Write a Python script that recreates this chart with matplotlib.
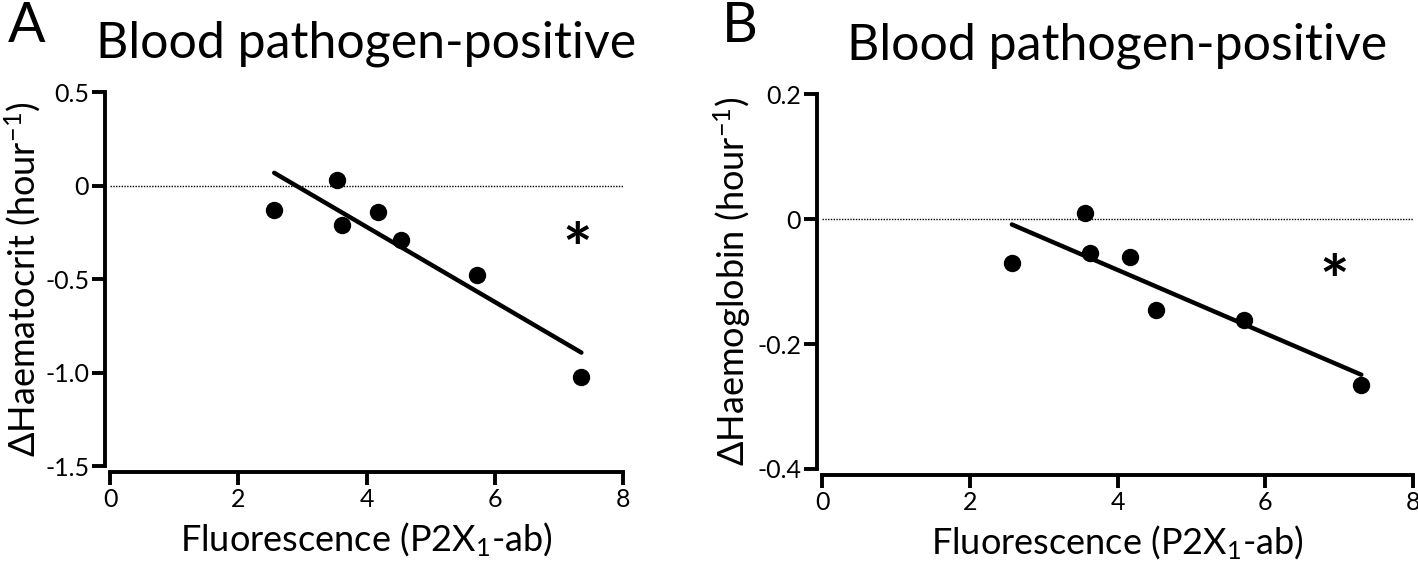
import numpy as np
import matplotlib
matplotlib.use('Agg')
import matplotlib.pyplot as plt

plt.rcParams['font.family'] = ['Lato', 'DejaVu Sans']
plt.rcParams['mathtext.fontset'] = 'custom'
plt.rcParams['mathtext.rm'] = 'Lato'
plt.rcParams['mathtext.it'] = 'Lato'
plt.rcParams['axes.unicode_minus'] = False

# Panel A: haematocrit
fluor_a = [2.56, 3.54, 3.62, 4.18, 4.54, 5.73, 7.35]
hct = [-0.133, 0.027, -0.213, -0.139, -0.293, -0.48, -1.024]
yticks_a = [0.5, 0, -0.5, -1.0, -1.5]
ylabels_a = ['0.5', '0', '-0.5', '-1.0', '-1.5']

# Panel B: haemoglobin
fluor_b = [2.57, 3.56, 3.63, 4.17, 4.52, 5.71, 7.30]
hgb = [-0.070, 0.010, -0.054, -0.061, -0.145, -0.161, -0.265]
yticks_b = [0.2, 0, -0.2, -0.4]
ylabels_b = ['0.2', '0', '-0.2', '-0.4']

xticks = [0, 2, 4, 6, 8]
xlabels = ['0', '2', '4', '6', '8']


def draw_panel(ax, x, y, yticks, ylabels, ylabel, star, ylab_x):
    x = np.asarray(x)
    y = np.asarray(y)

    # zero reference line
    ax.plot([0, 8], [0, 0], color='black', lw=1.0, ls=(0, (1, 1)), zorder=1)

    # linear fit drawn over the data range
    slope, icpt = np.polyfit(x, y, 1)
    xf = np.array([x.min(), x.max()])
    ax.plot(xf, slope * xf + icpt, color='black', lw=3.2, solid_capstyle='round', zorder=2)

    ax.plot(x, y, 'o', color='black', ms=11.5, zorder=3)
    # asterisk glyph sits high in its line, so it is placed a bit lower
    ax.text(star[0], star[1], '*', fontsize=50, ha='center', va='center', fontweight='bold')

    ax.set_xlim(0, 8)
    ax.set_ylim(yticks[-1], yticks[0])
    ax.set_xticks(xticks)
    ax.set_xticklabels(xlabels)
    ax.set_yticks(yticks)
    ax.set_yticklabels(ylabels)

    for s in ['top', 'right']:
        ax.spines[s].set_visible(False)
    ax.spines['left'].set_position(('outward', 3.5))
    ax.spines['bottom'].set_position(('outward', 4.5))
    ax.spines['left'].set_linewidth(2.8)
    ax.spines['bottom'].set_linewidth(2.8)
    ax.tick_params(width=2.8, length=9.5, labelsize=18, pad=2)

    ax.set_xlabel('Fluorescence (P2X$_1$-ab)', fontsize=26)
    ax.xaxis.set_label_coords(0.5, -0.145)
    ax.set_ylabel(ylabel, fontsize=26)
    ax.yaxis.set_label_coords(ylab_x, 0.5)
    ax.set_title('Blood pathogen-positive', fontsize=36, pad=25)


fig = plt.figure(figsize=(14.18, 5.61), dpi=100)
ax1 = fig.add_axes([0.0776, 0.1693, 0.3618, 0.6667])
ax2 = fig.add_axes([0.5797, 0.1640, 0.4168, 0.6684])

draw_panel(ax1, fluor_a, hct, yticks_a, ylabels_a, 'ΔHaematocrit (hour$^{-1}$)',
           (7.29, -0.365), -0.131)
draw_panel(ax2, fluor_b, hgb, yticks_b, ylabels_b, 'ΔHaemoglobin (hour$^{-1}$)',
           (6.94, -0.106), -0.117)

fig.text(8 / 1418, 1 - 42 / 561, 'A', fontsize=40, va='baseline', ha='left')
fig.text(722 / 1418, 1 - 42 / 561, 'B', fontsize=40, va='baseline', ha='left')

fig.savefig('out.png', dpi=100)
